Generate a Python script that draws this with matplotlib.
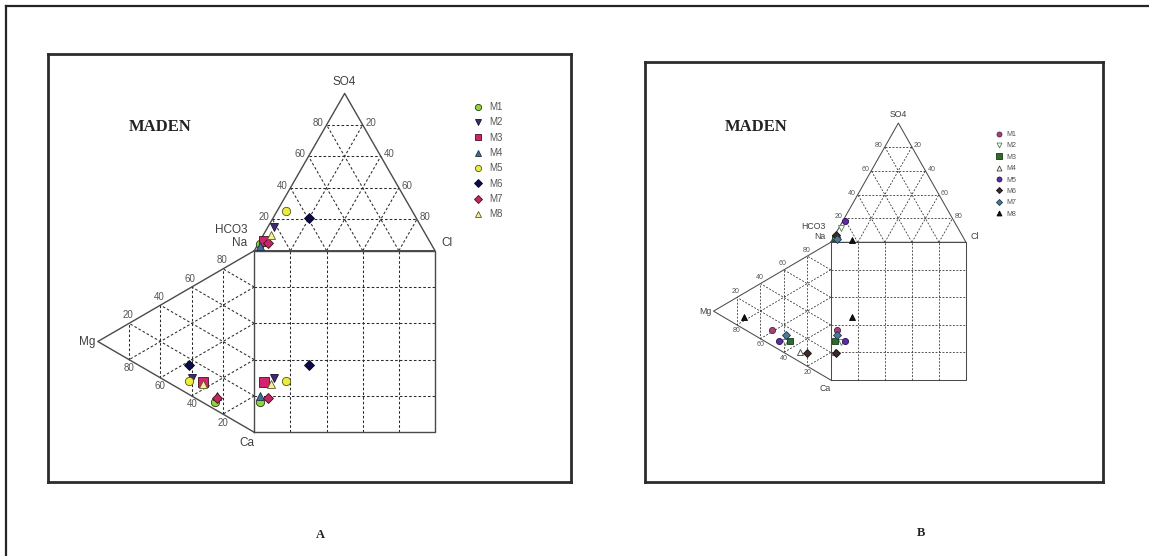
import numpy as np
import matplotlib.pyplot as plt

samples = ['M1', 'M2', 'M3', 'M4', 'M5', 'M6', 'M7', 'M8']

# panel A, meq % of cations and anions
a_na = [4, 10, 11, 8, 7, 16, 7, 10]
a_mg = [25, 40, 33, 24, 42, 42, 24, 33]
a_ca = [71, 50, 56, 68, 51, 42, 69, 57]
a_hco3 = [95, 81.5, 91.5, 95.3, 70, 59, 90, 86]
a_so4 = [4, 15, 6, 3, 25, 21, 5, 10]
a_cl = [1, 3.5, 2.5, 1.7, 5, 20, 5, 4]

# panel B
b_na = [11, 8, 10.5, 7, 6.5, 9, 14, 9]
b_mg = [50, 39, 35, 26, 44, 20.5, 38, 74]
b_ca = [39, 53, 54.5, 67, 49.5, 70.5, 48, 17]
b_hco3 = [93.6, 86.6, 94.8, 94.5, 80.4, 93.3, 94.3, 83]
b_so4 = [4, 11.6, 4, 5, 18, 6, 2.5, 2]
b_cl = [2.4, 1.8, 1.2, 0.5, 1.6, 0.7, 3.2, 15]

grid_ticks = [20, 40, 60, 80]

# marker styles: (marker, face, edge)
style_a = [('o', '#8fd63c', '#2a3a10'), ('v', '#3b2d6e', '#1a1030'),
           ('s', '#d0246e', '#40101e'), ('^', '#3f6f96', '#1f3048'),
           ('o', '#ecec3c', '#55551a'), ('D', '#0b0b4a', '#050520'),
           ('D', '#c02862', '#401020'), ('^', '#f5f0a0', '#5a5a20')]
style_b = [('o', '#a8407e', '#50203a'), ('v', 'white', '#4f7f4f'),
           ('s', '#2f6b2f', '#183818'), ('^', 'white', '#404030'),
           ('o', '#5b2ea0', '#2a1050'), ('D', '#3d2b2b', '#1a1010'),
           ('D', '#4a7a9a', '#203848'), ('^', '#111111', '#000000')]

H = np.sqrt(3) / 2
W, HT = 1149, 556

plt.rc('font', family=['Liberation Sans', 'DejaVu Sans'])
fig = plt.figure(figsize=(W / 100, HT / 100), dpi=100)

# outer border (top and left only)
bx = fig.add_axes([5.7 / W, 0, 1 - 5.7 / W, 1 - 5.7 / HT])
bx.set_xticks([]); bx.set_yticks([])
bx.set_facecolor('none')
for s in ['right', 'bottom']:
    bx.spines[s].set_visible(False)
for s in ['left', 'top']:
    bx.spines[s].set_linewidth(1.6)
    bx.spines[s].set_color('#252525')


def make_panel(frame, origin, unit):
    # frame: (left, top, right, bottom) px ; origin: px of Ca corner ; unit: px per %
    l, t, r, b = frame
    ax = fig.add_axes([l / W, 1 - b / HT, (r - l) / W, (b - t) / HT])
    ax.set_xlim((l - origin[0]) / unit[0], (r - origin[0]) / unit[0])
    ax.set_ylim((origin[1] - b) / unit[1], (origin[1] - t) / unit[1])
    ax.set_xticks([]); ax.set_yticks([])
    for s in ax.spines.values():
        s.set_linewidth(2.0)
        s.set_color('#2c2c2c')
    return ax


def draw_durov(ax, na, mg, hco3, so4, cl, styles, k):
    solid = dict(color='#4a4a4a', lw=1.0 * k, zorder=2)
    dash = dict(color='#2a2a2a', lw=0.75 * k, ls=(0, (2.5, 2)), zorder=1)
    top = 100 + 100 * H
    # outlines
    ax.plot([0, 100, 50, 0], [100, 100, top, 100], **solid)
    ax.plot([0, -100 * H, 0], [100, 50, 0], **solid)
    ax.plot([0, 100, 100, 0, 0], [0, 0, 100, 100, 0], **solid)
    for g in grid_ticks:
        # anion triangle
        ax.plot([g / 2, 100 - g / 2], [100 + g * H] * 2, **dash)
        ax.plot([g, g + (100 - g) / 2], [100, 100 + (100 - g) * H], **dash)
        ax.plot([g, g / 2], [100, 100 + g * H], **dash)
        # cation triangle
        ax.plot([-g * H, -g * H], [g / 2, 100 - g / 2], **dash)
        ax.plot([0, -g * H], [g, g / 2], **dash)
        ax.plot([0, -(100 - g) * H], [g, g + (100 - g) / 2], **dash)
        # square
        ax.plot([g, g], [0, 100], **dash)
        ax.plot([0, 100], [g, g], **dash)

    tk = dict(fontsize=7 * k, color='#555555', textcoords='offset points')
    for g in grid_ticks:
        ax.annotate(str(g), (g / 2, 100 + g * H), xytext=(-2 * k, 1.5 * k),
                    ha='right', va='center', **tk)
        ax.annotate(str(100 - g), (100 - g / 2, 100 + g * H), xytext=(2 * k, 1.5 * k),
                    ha='left', va='center', **tk)
        ax.annotate(str(g), (-(100 - g) * H, g + (100 - g) / 2), xytext=(-1 * k, 2.5 * k),
                    ha='center', va='bottom', **tk)
        ax.annotate(str(g), (-g * H, g / 2), xytext=(0, -2.5 * k),
                    ha='center', va='top', **tk)

    lb = dict(fontsize=8.5 * k, color='#404040', textcoords='offset points')
    ax.annotate('SO4', (50, top), xytext=(0, 8.5 * k), ha='center', va='center', **lb)
    ax.annotate('HCO3', (0, 100), xytext=(-5 * k, 15 * k), ha='right', va='center', **lb)
    ax.annotate('Na', (0, 100), xytext=(-5 * k, 5.3 * k), ha='right', va='center', **lb)
    ax.annotate('Cl', (100, 100), xytext=(4.5 * k, 5.3 * k), ha='left', va='center', **lb)
    ax.annotate('Mg', (-100 * H, 50), xytext=(-2 * k, 0), ha='right', va='center', **lb)
    ax.annotate('Ca', (0, 0), xytext=(-5.5 * k, -8 * k), ha='center', va='center', **lb)

    na, mg = np.asarray(na, float), np.asarray(mg, float)
    so4, cl = np.asarray(so4, float), np.asarray(cl, float)
    tx, ty = cl + so4 / 2, 100 + so4 * H
    lx, ly = -mg * H, na + mg / 2
    for i, name in enumerate(samples):
        m, fc, ec = styles[i]
        ms = (6.0 if m in 'o^v' else 5.2) * k
        if m == 's':
            ms = 6.6 * k
        st = dict(marker=m, ms=ms, mfc=fc, mec=ec, mew=0.6, ls='none', zorder=5 + i)
        ax.plot(tx[i], ty[i], label=name, **st)
        ax.plot(lx[i], ly[i], **st)
        ax.plot(tx[i], ly[i], **st)


# panel A
axA = make_panel((47.7, 54.3, 570.7, 482.0), (254.3, 432.3), (1.807, 1.816))
draw_durov(axA, a_na, a_mg, a_hco3, a_so4, a_cl, style_a, 1.0)
axA.text(0.2147, 0.8307, 'MADEN', transform=axA.transAxes, ha='center', va='center',
         fontsize=12, fontweight='bold', family='Liberation Serif', color='#222222')
axA.legend(loc='upper left', bbox_to_anchor=(472.9 / W, 1 - 102.0 / HT),
           bbox_transform=fig.transFigure, frameon=False, fontsize=7,
           labelcolor='#555555', handlelength=1.0, handletextpad=0.69,
           labelspacing=0.55, borderpad=0, borderaxespad=0, markerscale=0.75,
           numpoints=1)

# panel B
axB = make_panel((644.5, 61.7, 1102.7, 481.8), (830.7, 380.0), (1.353, 1.377))
draw_durov(axB, b_na, b_mg, b_hco3, b_so4, b_cl, style_b, 0.74)
axB.text(0.2438, 0.8453, 'MADEN', transform=axB.transAxes, ha='center', va='center',
         fontsize=12, fontweight='bold', family='Liberation Serif', color='#222222')
axB.legend(loc='upper left', bbox_to_anchor=(995.8 / W, 1 - 131.0 / HT),
           bbox_transform=fig.transFigure, frameon=False, fontsize=5,
           labelcolor='#555555', handlelength=1.0, handletextpad=0.58,
           labelspacing=0.63, borderpad=0, borderaxespad=0, markerscale=0.8,
           numpoints=1)

fig.text(320 / W, 1 - 535 / HT, 'A', ha='center', va='center', fontsize=9,
         fontweight='bold', family='Liberation Serif', color='#222222')
fig.text(920.7 / W, 1 - 533.3 / HT, 'B', ha='center', va='center', fontsize=9,
         fontweight='bold', family='Liberation Serif', color='#222222')

fig.savefig('out.png', dpi=100)
